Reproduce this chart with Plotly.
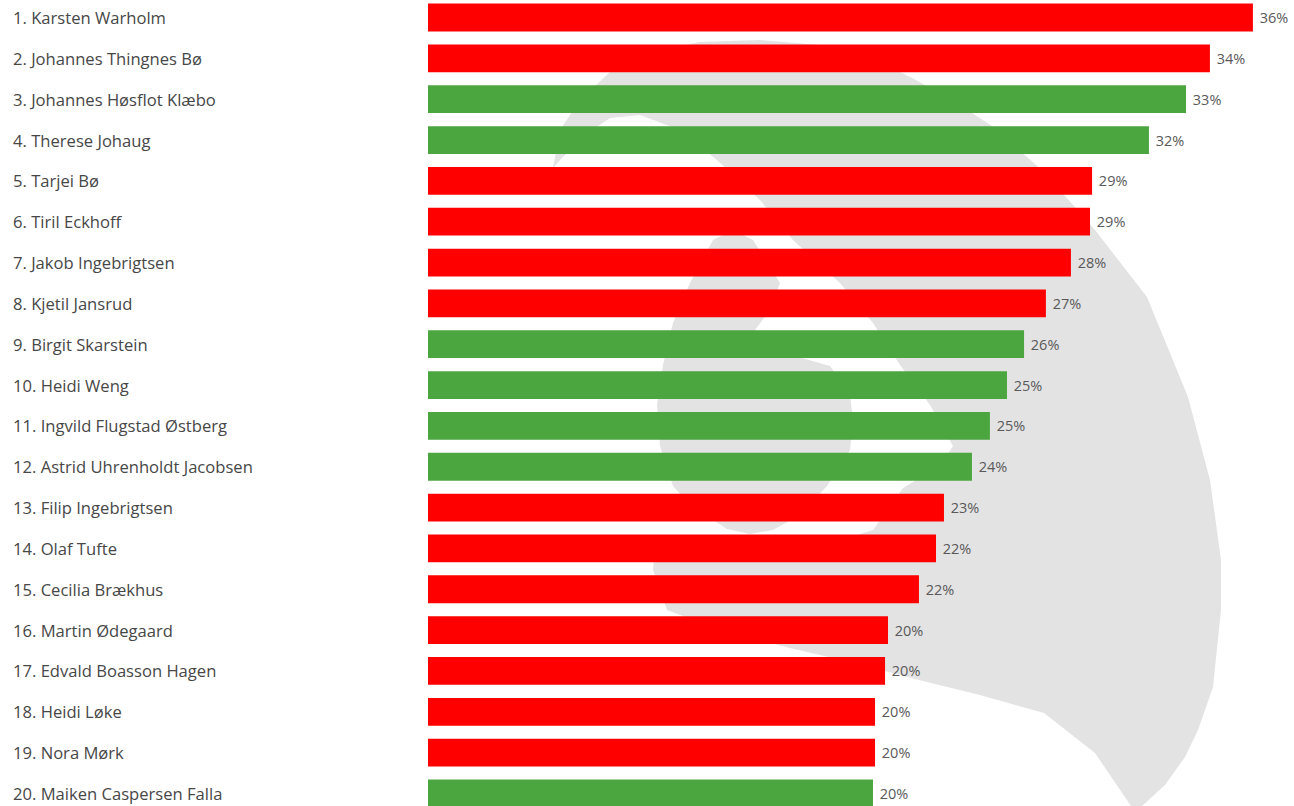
import plotly.graph_objects as go

# ---------------- data ----------------
names = [
    "1. Karsten Warholm", "2. Johannes Thingnes Bø", "3. Johannes Høsflot Klæbo",
    "4. Therese Johaug", "5. Tarjei Bø", "6. Tiril Eckhoff", "7. Jakob Ingebrigtsen",
    "8. Kjetil Jansrud", "9. Birgit Skarstein", "10. Heidi Weng",
    "11. Ingvild Flugstad Østberg", "12. Astrid Uhrenholdt Jacobsen",
    "13. Filip Ingebrigtsen", "14. Olaf Tufte", "15. Cecilia Brækhus",
    "16. Martin Ødegaard", "17. Edvald Boasson Hagen", "18. Heidi Løke",
    "19. Nora Mørk", "20. Maiken Caspersen Falla",
]
shares = [0.3626, 0.3437, 0.3332, 0.3169, 0.2919, 0.2910, 0.2826, 0.2716, 0.2620, 0.2545,
          0.2470, 0.2391, 0.2268, 0.2233, 0.2158, 0.2022, 0.2009, 0.1965, 0.1965, 0.1956]
groups = ["annet", "annet", "langrenn", "langrenn", "annet", "annet", "annet", "annet",
          "langrenn", "langrenn", "langrenn", "langrenn", "annet", "annet", "annet",
          "annet", "annet", "annet", "annet", "langrenn"]
group_colors = {"annet": "#FF0000", "langrenn": "#4CA640"}

# ---------------- layout constants ----------------
W, H = 1294, 806
L = 428
PW = W - L

# watermark outline (pixel coordinates, decorative background)
wm_outer = [(553, 168), (560, 130), (580, 100), (610, 72), (650, 52), (700, 42), (760, 40),
            (820, 45), (880, 62), (916, 80), (960, 105), (995, 128), (1045, 173), (1095, 230),
            (1147, 297), (1188, 397), (1210, 480), (1221, 560), (1221, 610), (1213, 687),
            (1198, 730), (1185, 757), (1165, 785), (1142, 806), (1137, 820), (1131, 806),
            (1095, 753), (1044, 713), (980, 695), (931, 683), (850, 662), (790, 648),
            (720, 630), (667, 610), (653, 570), (655, 548), (700, 553), (800, 553),
            (873, 530), (903, 488), (940, 466), (953, 446), (930, 405), (900, 365),
            (873, 323), (840, 283), (793, 240), (760, 200), (717, 160), (680, 130),
            (640, 115), (610, 118), (585, 135), (560, 160)]
wm_head = [(733, 230), (753, 240), (780, 283), (770, 310), (755, 330), (760, 358), (795, 356),
           (830, 366), (850, 395), (853, 420), (850, 450), (827, 486), (800, 515), (773, 530),
           (750, 534), (727, 529), (690, 505), (673, 486), (660, 446), (657, 405), (663, 365),
           (673, 323), (690, 283), (713, 240)]


def to_path(pts):
    parts = []
    for i, (x, y) in enumerate(pts):
        px = (x - L) / PW
        py = 1 - y / H
        parts.append(("M" if i == 0 else "L") + f"{px:.5f},{py:.5f}")
    return " ".join(parts) + " Z"


FONT = "'Open Sans', Lato, sans-serif"

fig = go.Figure()
fig.add_trace(go.Bar(
    x=shares,
    y=names,
    orientation="h",
    marker=dict(color=[group_colors[g] for g in groups], line=dict(width=0)),
    texttemplate="\u00a0%{x:.0%}",
    textposition="outside",
    textfont=dict(family=FONT, size=14.5, color="#595959"),
    cliponaxis=False,
    hoverinfo="skip",
))

annotations = []
for n in names:
    annotations.append(dict(
        x=0, xref="paper", y=n, yref="y", text=n, showarrow=False,
        xanchor="left", xshift=-(L - 11), yanchor="middle",
        font=dict(family=FONT, size=16.6, color="#474747"),
    ))

shapes = [
    dict(type="path", path=to_path(wm_outer), xref="paper", yref="paper",
         fillcolor="#e3e3e3", line=dict(width=0), layer="below"),
    dict(type="path", path=to_path(wm_head), xref="paper", yref="paper",
         fillcolor="#e3e3e3", line=dict(width=0), layer="below"),
]

spacing = 40.84
first_center = 17.5
y_top = -first_center / spacing
y_bottom = (H - first_center) / spacing

fig.update_layout(
    width=W, height=H,
    margin=dict(l=L, r=0, t=0, b=0, pad=0),
    paper_bgcolor="white", plot_bgcolor="rgba(0,0,0,0)",
    showlegend=False,
    bargap=0.32,
    annotations=annotations,
    shapes=shapes,
    xaxis=dict(range=[0, PW / 22.75 / 100], visible=False, fixedrange=True),
    yaxis=dict(type="category", categoryorder="array", categoryarray=names,
               range=[y_bottom, y_top], showticklabels=False, showgrid=False,
               zeroline=False, showline=False, ticks="", fixedrange=True),
    uniformtext=dict(mode=False),
)

fig.write_html("out.html", config={"displayModeBar": False})
